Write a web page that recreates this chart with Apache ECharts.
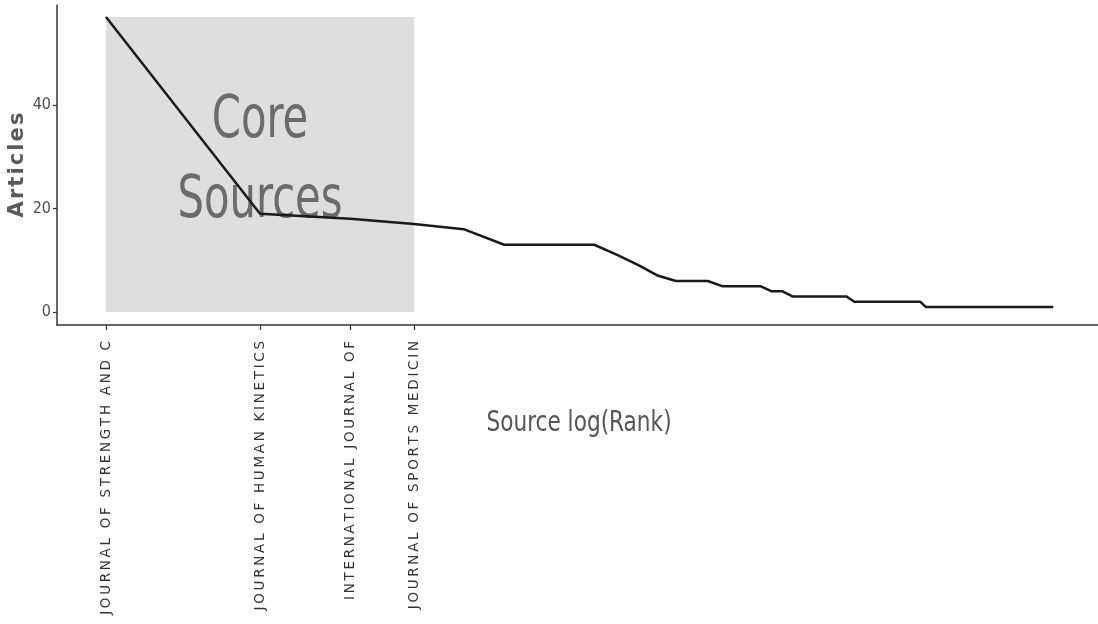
<!DOCTYPE html>
<html>
<head>
<meta charset="utf-8">
<title>Bradford's Law</title>
<script src="https://cdn.jsdelivr.net/npm/echarts@6/dist/echarts.min.js"></script>
<style>
  html, body { margin: 0; padding: 0; background: #fff; }
  #chart { width: 1098px; height: 624px; }
</style>
</head>
<body>
<div id="chart"></div>
<script>
// Articles per source, sources sorted by rank (1 = most productive)
const articles = [
  57, 19, 18, 17, 16, 13, 13, 13, 13, 11,
  9, 7, 6, 6, 6, 5, 5, 5, 5, 4,
  4, 3, 3, 3, 3, 3, 3, 3, 2, 2,
  2, 2, 2, 2, 2, 2, 2, 2, 2, 1,
  1, 1, 1, 1, 1, 1, 1, 1, 1, 1,
  1, 1, 1, 1, 1, 1, 1, 1, 1, 1,
  1, 1, 1, 1, 1, 1, 1, 1, 1, 1,
  1
];
// Core zone sources (Bradford zone 1), labels truncated as in the source table
const coreSources = [
  'JOURNAL OF STRENGTH AND C',
  'JOURNAL OF HUMAN KINETICS',
  'INTERNATIONAL JOURNAL OF',
  'JOURNAL OF SPORTS MEDICIN'
];
const yTicks = [0, 20, 40];

const COND = '"DejaVu Sans Condensed", "DejaVu Sans", sans-serif';

// points on log(rank) scale
const points = articles.map((v, i) => [Math.log(i + 1), v]);
const coreTicks = coreSources.map((_, i) => Math.log(i + 1));
const coreEnd = Math.log(coreSources.length);
const maxArticles = Math.max.apply(null, articles);

// widen tracking of rotated text
function spaced(s, gap) { return s.split('').join(gap); }

const chart = echarts.init(document.getElementById('chart'), null, { renderer: 'canvas' });
chart.setOption({
  animation: false,
  grid: { left: 57, right: 0, top: 5, bottom: 299, containLabel: false, outerBoundsMode: 'none' },
  graphic: [
    {
      type: 'text',
      x: 579,
      y: 423,
      scaleX: 0.83,
      style: {
        text: 'Source log(Rank)',
        fontFamily: COND,
        fontSize: 29,
        fill: '#555555',
        align: 'center',
        verticalAlign: 'middle'
      }
    }
  ],
  xAxis: {
    type: 'value',
    min: -0.2205,
    max: 4.464,
    axisLine: { show: true, onZero: false, lineStyle: { color: '#333', width: 1.5 } },
    axisTick: { show: true, length: 5, customValues: coreTicks, lineStyle: { color: '#333', width: 1.2 } },
    axisLabel: {
      customValues: coreTicks,
      rotate: 90,
      margin: 16,
      fontFamily: '"DejaVu Sans", sans-serif',
      fontSize: 13.5,
      color: '#333',
      formatter: function (v) {
        const i = coreTicks.findIndex(t => Math.abs(t - v) < 1e-6);
        return i < 0 ? '' : spaced(coreSources[i], '\u2009');
      }
    },
    splitLine: { show: false }
  },
  yAxis: {
    type: 'value',
    min: -2.5,
    max: 59.3,
    name: spaced('Articles', '\u200A'),
    nameLocation: 'middle',
    nameGap: 29,
    nameMoveOverlap: false,
    nameTextStyle: { fontFamily: '"DejaVu Sans", sans-serif', fontSize: 21, fontWeight: 'bold', color: '#5a5a5a' },
    axisLine: { show: true, onZero: false, lineStyle: { color: '#333', width: 1.5 } },
    axisTick: { show: true, length: 4, customValues: yTicks, lineStyle: { color: '#333', width: 1.2 } },
    axisLabel: {
      customValues: yTicks,
      margin: 6,
      fontFamily: COND,
      fontSize: 16,
      color: '#4d4d4d'
    },
    splitLine: { show: false }
  },
  series: [
    {
      // shaded core-sources zone with its caption
      type: 'custom',
      z: 1,
      silent: true,
      data: [[0, coreEnd, 0, maxArticles]],
      renderItem: function (params, api) {
        const p0 = api.coord([api.value(0), api.value(2)]);
        const p1 = api.coord([api.value(1), api.value(3)]);
        const x = Math.min(p0[0], p1[0]);
        const y = Math.min(p0[1], p1[1]);
        const w = Math.abs(p1[0] - p0[0]);
        const h = Math.abs(p1[1] - p0[1]);
        return {
          type: 'group',
          children: [
            { type: 'rect', shape: { x: x, y: y, width: w, height: h }, style: { fill: '#dedede' } },
            {
              type: 'text',
              x: x + w / 2,
              y: y + h / 2 - 3,
              scaleX: 0.8,
              style: {
                text: 'Core\nSources',
                fontFamily: COND,
                fontSize: 58,
                lineHeight: 80,
                fill: '#6b6b6b',
                align: 'center',
                verticalAlign: 'middle'
              }
            }
          ]
        };
      }
    },
    {
      type: 'line',
      z: 3,
      data: points,
      showSymbol: false,
      symbol: 'none',
      lineStyle: { color: '#1a1a1a', width: 2.5 }
    }
  ]
});
</script>
</body>
</html>
